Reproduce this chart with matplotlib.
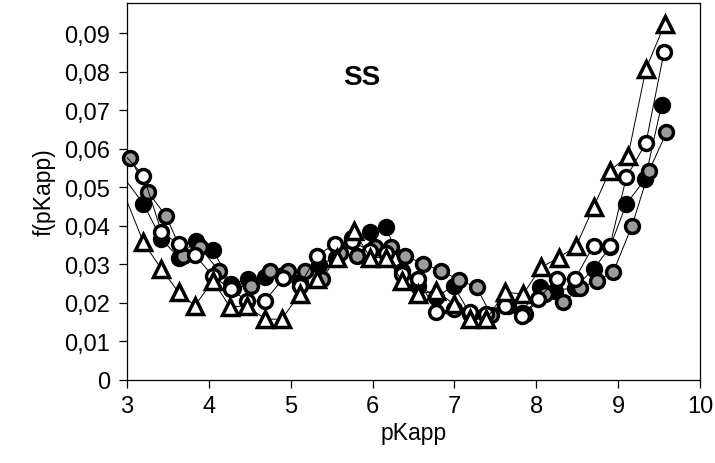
import matplotlib
matplotlib.use("Agg")
import matplotlib.pyplot as plt
from matplotlib.ticker import FuncFormatter

plt.rcParams['font.family'] = ['Liberation Sans', 'DejaVu Sans']

# distribution f(pKapp) for the four SS samples
x_black = [2.98, 3.20, 3.42, 3.63, 3.84, 4.05, 4.27, 4.48, 4.69, 4.91, 5.11, 5.34,
           5.55, 5.75, 5.97, 6.17, 6.36, 6.56, 6.78, 6.99, 7.19, 7.39, 7.62, 7.82,
           8.04, 8.23, 8.47, 8.70, 8.90, 9.10, 9.33, 9.53]
y_black = [0.052, 0.0458, 0.0366, 0.0318, 0.0362, 0.0338, 0.0250, 0.0262, 0.0267, 0.0272,
           0.0255, 0.0298, 0.0318, 0.0370, 0.0384, 0.0397, 0.0284, 0.0245, 0.0215, 0.0245,
           0.0172, 0.0170, 0.0202, 0.0175, 0.0241, 0.0232, 0.0240, 0.0288, 0.0345, 0.0457,
           0.0522, 0.0714]

x_open = [2.99, 3.20, 3.42, 3.63, 3.83, 4.05, 4.27, 4.46, 4.68, 4.91, 5.11, 5.32,
          5.54, 5.75, 5.97, 6.17, 6.36, 6.56, 6.78, 6.99, 7.19, 7.39, 7.62, 7.82,
          8.02, 8.25, 8.47, 8.70, 8.90, 9.10, 9.34, 9.56]
y_open = [0.058, 0.0531, 0.0385, 0.0353, 0.0325, 0.0269, 0.0236, 0.0206, 0.0204, 0.0264,
          0.0245, 0.0323, 0.0353, 0.0360, 0.0335, 0.0330, 0.0275, 0.0262, 0.0176, 0.0184,
          0.0176, 0.0171, 0.0193, 0.0167, 0.0210, 0.0262, 0.0262, 0.0349, 0.0349, 0.0526,
          0.0616, 0.0851]

x_gray = [3.04, 3.26, 3.48, 3.69, 3.89, 4.12, 4.30, 4.52, 4.75, 4.97, 5.17, 5.38,
          5.60, 5.81, 6.03, 6.23, 6.40, 6.62, 6.84, 7.05, 7.27, 7.45, 7.66, 7.86,
          8.11, 8.33, 8.53, 8.74, 8.94, 9.17, 9.38, 9.59]
y_gray = [0.0576, 0.0487, 0.0425, 0.0323, 0.0345, 0.0284, 0.0240, 0.0245, 0.0284, 0.0284,
          0.0284, 0.0262, 0.0330, 0.0323, 0.0345, 0.0345, 0.0323, 0.0301, 0.0284, 0.0260,
          0.0241, 0.0168, 0.0192, 0.0172, 0.0223, 0.0202, 0.0238, 0.0258, 0.0280, 0.0401,
          0.0544, 0.0643]

x_tri = [2.97, 3.20, 3.42, 3.63, 3.83, 4.05, 4.26, 4.46, 4.69, 4.89, 5.11, 5.32,
         5.56, 5.77, 5.97, 6.17, 6.36, 6.56, 6.78, 6.99, 7.19, 7.39, 7.62, 7.84,
         8.06, 8.28, 8.49, 8.70, 8.90, 9.12, 9.34, 9.57]
y_tri = [0.048, 0.0358, 0.0288, 0.0228, 0.0193, 0.0258, 0.0189, 0.0193, 0.0158, 0.0158,
         0.0223, 0.0262, 0.0318, 0.0388, 0.0318, 0.0318, 0.0258, 0.0223, 0.0232, 0.0197,
         0.0158, 0.0158, 0.0228, 0.0223, 0.0293, 0.0318, 0.0349, 0.0449, 0.0544, 0.0581,
         0.0808, 0.0925]

y_ticks = [0, 0.01, 0.02, 0.03, 0.04, 0.05, 0.06, 0.07, 0.08, 0.09]
x_ticks = [3, 4, 5, 6, 7, 8, 9, 10]
x_min, x_max = 3, 10

fig = plt.figure(figsize=(7.15, 4.64), dpi=100)
ax = fig.add_axes([127 / 715, 83 / 464, 573 / 715, 377 / 464])

ms = 10
mew = 2.5
lw = 0.7
series = [
    (x_black, y_black, 'o', 'black', 2),
    (x_gray, y_gray, 'o', '#9c9c9c', 3),
    (x_open, y_open, 'o', 'white', 4),
    (x_tri, y_tri, '^', 'white', 5),
]
for xs, ys, mk, fc, z in series:
    # connecting lines run off the left edge, markers only inside the range
    ax.plot(xs, ys, '-', color='black', lw=lw, zorder=z)
    xin = [a for a in xs if a >= x_min]
    yin = [b for a, b in zip(xs, ys) if a >= x_min]
    ax.plot(xin, yin, ls='none', marker=mk, ms=ms + (1 if mk == '^' else 0),
            mfc=fc, mec='black', mew=mew, zorder=z + 0.5, clip_on=False)

ax.set_xlim(x_min, x_max)
ax.set_ylim(0, 0.0979)
ax.set_xticks(x_ticks)
ax.set_yticks(y_ticks)


def comma_fmt(v, pos):
    if abs(v) < 1e-9:
        return '0'
    return f'{v:.2f}'.replace('.', ',')


ax.yaxis.set_major_formatter(FuncFormatter(comma_fmt))
ax.tick_params(direction='out', length=6, width=0.9, labelsize=17)
ax.tick_params(axis='x', pad=5)
ax.tick_params(axis='y', pad=6)
for s in ax.spines.values():
    s.set_linewidth(0.9)

ax.set_xlabel('pKapp', fontsize=16.5, labelpad=3)
fig.text(44 / 715, 0.5 * (83 + 460) / 464, 'f(pKapp)', fontsize=16.5, rotation=90,
         ha='center', va='center')

ax.text(5.87, 0.0788, 'SS', fontsize=20, fontweight='bold', ha='center', va='center')

fig.savefig('out.png', dpi=100)
